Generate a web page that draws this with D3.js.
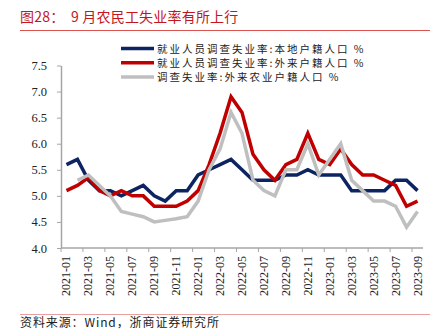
<!DOCTYPE html>
<html>
<head>
<meta charset="utf-8">
<script src="https://cdn.jsdelivr.net/npm/d3@7"></script>
<style>
  html, body { margin: 0; padding: 0; background: #fff; }
  svg { display: block; }
</style>
</head>
<body>
<svg id="chart" width="441" height="336"></svg>
<script>
const months = ["2021-01","2021-02","2021-03","2021-04","2021-05","2021-06","2021-07","2021-08","2021-09","2021-10","2021-11","2021-12",
  "2022-01","2022-02","2022-03","2022-04","2022-05","2022-06","2022-07","2022-08","2022-09","2022-10","2022-11","2022-12",
  "2023-01","2023-02","2023-03","2023-04","2023-05","2023-06","2023-07","2023-08","2023-09"];
const xTickLabels = ["2021-01","2021-03","2021-05","2021-07","2021-09","2021-11","2022-01","2022-03","2022-05","2022-07","2022-09","2022-11","2023-01","2023-03","2023-05","2023-07","2023-09"];
const yTicks = [4.0, 4.5, 5.0, 5.5, 6.0, 6.5, 7.0, 7.5];
const seriesNames = ["就业人员调查失业率:本地户籍人口 %", "就业人员调查失业率:外来户籍人口 %", "调查失业率:外来农业户籍人口 %"];
const localRate = [5.6,5.7,5.3,5.1,5.1,5.0,5.1,5.2,5.0,4.9,5.1,5.1,5.4,5.5,5.6,5.7,5.5,5.3,5.3,5.3,5.4,5.4,5.5,5.4,5.4,5.4,5.1,5.1,5.1,5.1,5.3,5.3,5.1];
const migrantRate = [5.1,5.2,5.35,5.1,5.0,5.1,5.0,5.0,4.8,4.8,4.8,4.9,5.1,5.6,6.2,6.9,6.6,5.8,5.5,5.3,5.6,5.7,6.2,5.7,5.6,5.9,5.6,5.4,5.4,5.3,5.2,4.8,4.9];
const migrantAgriRate = [null,5.3,5.4,5.2,5.0,4.7,4.65,4.6,4.5,4.53,4.56,4.6,4.9,5.5,5.9,6.6,6.2,5.3,5.1,5.0,5.5,5.5,6.0,5.4,5.7,6.0,5.3,5.1,4.9,4.9,4.8,4.4,4.7];
const colors = ["#0c2461", "#c00000", "#bfbfbf"];
const title = "图28：  9 月农民工失业率有所上行";
const source = "资料来源：Wind，浙商证券研究所";

const svg = d3.select("#chart");
const serif = "'Liberation Serif','Times New Roman',serif";
const cjk = "'Noto Sans CJK SC','Noto Sans',sans-serif";

// Title
svg.append("text").attr("x", 20).attr("y", 22)
  .attr("fill", "#c4161c").attr("font-family", cjk).attr("font-size", 14)
  .attr("letter-spacing", 0.2)
  .style("white-space", "pre").text(title);
svg.append("line").attr("x1", 20).attr("x2", 430).attr("y1", 30.5).attr("y2", 30.5)
  .attr("stroke", "#d9534f").attr("stroke-width", 1);
svg.append("line").attr("x1", 20).attr("x2", 430).attr("y1", 314.5).attr("y2", 314.5)
  .attr("stroke", "#e6a0a0").attr("stroke-width", 1.2);
svg.append("text").attr("x", 20).attr("y", 327)
  .attr("fill", "#222").attr("font-family", cjk).attr("font-size", 12)
  .attr("letter-spacing", 0.9).text(source);

const x = d3.scaleBand().domain(months).range([61, 423]).paddingInner(0).paddingOuter(0);
const y = d3.scaleLinear().domain([4.0, 7.5]).range([248, 65.5]);
const axisColor = "#a6a6a6";

// Y axis
const yAxis = svg.append("g").attr("transform", "translate(61,0)")
  .call(d3.axisLeft(y).tickValues(yTicks).tickFormat(d3.format(".1f")).tickSize(4).tickSizeOuter(0));
yAxis.select(".domain").attr("stroke", axisColor).attr("stroke-width", 1.5);
yAxis.selectAll(".tick line").attr("stroke", axisColor).attr("stroke-width", 1);
yAxis.selectAll(".tick text").attr("font-family", serif).attr("font-size", 12.5)
  .attr("fill", "#222").attr("x", -14);

// X axis
const xg = svg.append("g");
xg.append("line").attr("x1", 61).attr("x2", 423).attr("y1", 248).attr("y2", 248)
  .attr("stroke", axisColor).attr("stroke-width", 1.5);
xg.selectAll("line.tk").data(xTickLabels).join("line").attr("class", "tk")
  .attr("x1", d => x(d)).attr("x2", d => x(d)).attr("y1", 248).attr("y2", 252)
  .attr("stroke", axisColor).attr("stroke-width", 1);
xg.selectAll("text").data(xTickLabels).join("text")
  .attr("transform", d => `translate(${x(d) + x.bandwidth() / 2 + 4},256) rotate(-90)`)
  .attr("text-anchor", "end").attr("font-family", serif).attr("font-size", 12)
  .attr("fill", "#222").text(d => d);

// Lines
const allSeries = [localRate, migrantRate, migrantAgriRate];
const line = d3.line()
  .defined(d => d.v !== null)
  .x(d => x(d.m) + x.bandwidth() / 2)
  .y(d => y(d.v));
allSeries.forEach((vals, k) => {
  const data = months.map((m, i) => ({ m, v: vals[i] }));
  svg.append("path").datum(data)
    .attr("fill", "none").attr("stroke", colors[k]).attr("stroke-width", 3.5)
    .attr("stroke-linejoin", "miter").attr("stroke-linecap", "butt")
    .attr("d", line);
});

// Legend
const leg = svg.append("g");
seriesNames.forEach((name, k) => {
  const ly = 48.5 + k * 14.3;
  leg.append("line").attr("x1", 121).attr("x2", 154).attr("y1", ly).attr("y2", ly)
    .attr("stroke", colors[k]).attr("stroke-width", 3.5);
  leg.append("text").attr("x", 157).attr("y", ly + 4)
    .attr("font-family", cjk).attr("font-size", 10.5).attr("letter-spacing", 2)
    .attr("fill", "#222").text(name);
});
</script>
</body>
</html>
